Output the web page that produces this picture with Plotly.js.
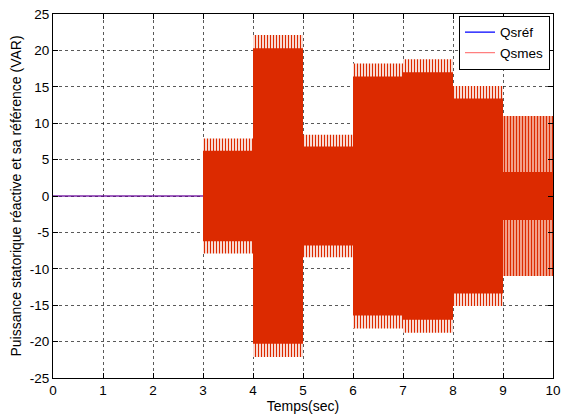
<!DOCTYPE html>
<html>
<head>
<meta charset="utf-8">
<script src="https://cdn.plot.ly/plotly-3.0.1.min.js"></script>
<style>html,body{margin:0;padding:0;background:#fff}</style>
</head>
<body>
<div id="chart" style="width:564px;height:417px"></div>
<script>
// Reference stator reactive power (VAR): held at zero over the whole run
const tRef = [0, 10];
const qsRef = [0, 0];

// Measured reactive power while the machine is idle
const tIdle = [0, 3];
const qsIdle = [0, 0];

// Measured reactive power once it oscillates, one entry per one-second interval
const segStart = [3, 4, 5, 6, 7, 8, 9];
const segEnd   = [4, 5, 6, 7, 8, 9, 10];
const qsCore   = [6.2, 20.3, 6.8, 16.4, 17.0, 13.4, 3.3];   // amplitude covered on every cycle
const qsPeak   = [7.9, 22.1, 8.4, 18.2, 18.8, 15.1, 11.0];  // highest peaks reached

const xTicks = [0, 1, 2, 3, 4, 5, 6, 7, 8, 9, 10];
const yTicks = [-25, -20, -15, -10, -5, 0, 5, 10, 15, 20, 25];

const RED = '#dc2a00';

// Symmetric step outline (+level on top, -level underneath) over intervals [from, to)
function envelope(level, from, to) {
  const x = [], y = [];
  for (let i = from; i < to; i++) {
    x.push(segStart[i], segEnd[i]);
    y.push(level[i], level[i]);
  }
  for (let i = to - 1; i >= from; i--) {
    x.push(segEnd[i], segStart[i]);
    y.push(-level[i], -level[i]);
  }
  return { x, y };
}

const n = segStart.length;
const peakEarly = envelope(qsPeak, 0, n - 1);   // slower beating: separated strokes
const peakLast = envelope(qsPeak, n - 1, n);    // last interval: tighter strokes
const core = envelope(qsCore, 0, n);

function strokes(env, gapColor) {
  return {
    x: env.x, y: env.y, type: 'scatter', mode: 'lines', fill: 'toself',
    showlegend: false, hoverinfo: 'skip',
    line: { width: 0, color: RED },
    fillcolor: 'rgba(255,255,255,0)',
    fillpattern: { shape: '|', size: 3, solidity: 0.45, fgcolor: RED, bgcolor: gapColor, fillmode: 'replace' }
  };
}

const traces = [
  {
    name: 'Qsréf', x: tRef, y: qsRef, type: 'scatter', mode: 'lines',
    line: { color: '#0000ff', width: 1.2 }
  },
  strokes(peakEarly, '#ffffff'),
  strokes(peakLast, '#f7b8a6'),
  {
    // dense body of the oscillation
    x: core.x, y: core.y, type: 'scatter', mode: 'lines', fill: 'toself',
    showlegend: false, hoverinfo: 'skip',
    line: { width: 0, color: RED }, fillcolor: RED
  },
  {
    name: 'Qsmes', x: tIdle, y: qsIdle, type: 'scatter', mode: 'lines',
    line: { color: '#ff0000', width: 1.2 }, opacity: 0.5
  }
];

const axisCommon = {
  showline: true, linecolor: '#000', linewidth: 1, mirror: 'ticks',
  ticks: 'inside', ticklen: 5, tickcolor: '#000', tickwidth: 1,
  showgrid: true, gridcolor: 'rgba(0,0,0,0.65)', gridwidth: 1, griddash: 'dot',
  zeroline: false, tickfont: { size: 13.5, color: '#000' }
};

const layout = {
  width: 564, height: 417,
  margin: { l: 53, r: 11, t: 14, b: 39 },
  paper_bgcolor: '#fff', plot_bgcolor: '#fff',
  font: { family: 'Liberation Sans, Arial, sans-serif', size: 13, color: '#000' },
  showlegend: true,
  legend: {
    x: 0.994, y: 0.995, xanchor: 'right', yanchor: 'top',
    bgcolor: '#fff', bordercolor: '#000', borderwidth: 1,
    font: { size: 13.5, color: '#000' }, tracegroupgap: 0, itemwidth: 30
  },
  xaxis: Object.assign({}, axisCommon, {
    range: [0, 10], tickvals: xTicks, ticktext: xTicks.map(String),
    title: { text: 'Temps(sec)', font: { size: 14, color: '#000' }, standoff: 0 }
  }),
  yaxis: Object.assign({}, axisCommon, {
    range: [-25, 25], tickvals: yTicks, ticktext: yTicks.map(String),
    title: { text: 'Puissance statorique réactive et sa référence (VAR)', font: { size: 14, color: '#000' }, standoff: 4 }
  })
};

Plotly.newPlot('chart', traces, layout, { staticPlot: true, displayModeBar: false });
</script>
</body>
</html>
